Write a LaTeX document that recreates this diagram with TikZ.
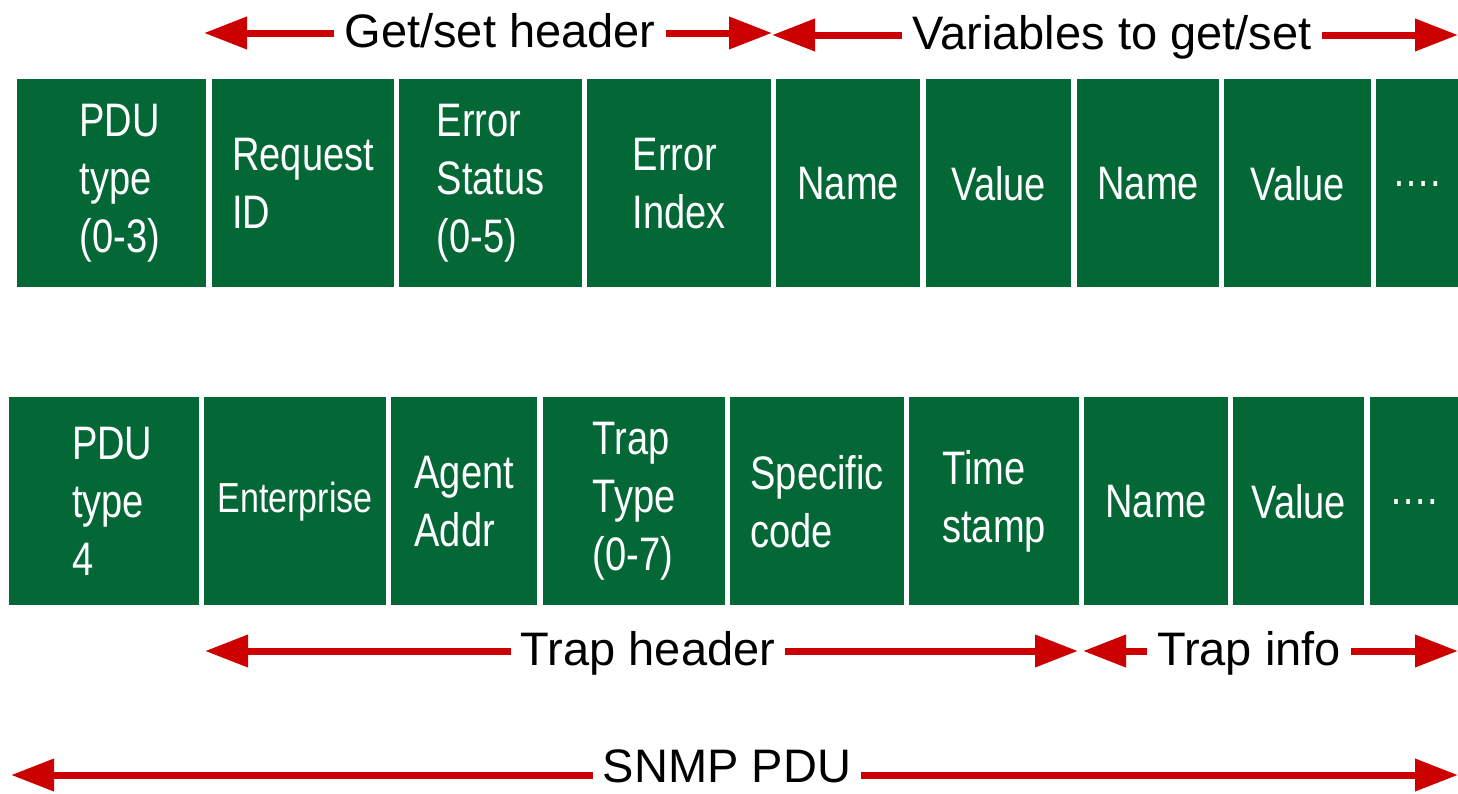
\documentclass[tikz,border=0pt]{standalone}
\usepackage{fontspec}
\setmainfont{Liberation Sans}
\newfontfamily\cellfont[FakeStretch=0.81]{Liberation Sans}
\usetikzlibrary{arrows.meta}
\definecolor{pdugreen}{RGB}{3,103,54}
\definecolor{pdured}{RGB}{204,0,0}

\begin{document}
\begin{tikzpicture}[x=1pt, y=-1pt,
  field/.style={fill=pdugreen, text=white, anchor=north west, inner sep=0pt,
    minimum height=208pt, align=left, font=\cellfont\fontsize{47}{58}\selectfont},
  span/.style={text height=28pt, text depth=0pt, inner xsep=10pt, inner ysep=0pt,
    font=\fontsize{47}{56}\selectfont},
  pduarrow/.style={draw=pdured, line width=7pt, -{Triangle[length=43pt,width=31pt]}}]
  \useasboundingbox (0,0) rectangle (1458,793);

  % get/set PDU
  \node[field, minimum width=189pt] (gtype) at (17,79) {\hspace*{16pt}PDU\\\hspace*{16pt}type\\\hspace*{16pt}(0-3)};
  \node[field, minimum width=182pt] (reqid) at (212,79) {Request\\ID};
  \node[field, minimum width=183pt] (errstat) at (399,79) {Error\\Status\\(0-5)};
  \node[field, minimum width=184pt] (erridx) at (587,79) {Error\\Index};
  \node[field, minimum width=144pt] (gname1) at (776,79) {Name};
  \node[field, minimum width=145pt] (gval1) at (926,79) {Value};
  \node[field, minimum width=142pt] (gname2) at (1077,79) {Name};
  \node[field, minimum width=147pt] (gval2) at (1224,79) {Value};
  \node[field, minimum width=82pt] (gmore) at (1376,79) {\raisebox{-6pt}{….}};

  % trap PDU
  \node[field, minimum width=190pt] (ttype) at (9,397) {\hspace*{16pt}PDU\\\hspace*{16pt}type\\\hspace*{16pt}4};
  \node[field, minimum width=182pt, font=\cellfont\fontsize{42}{50}\selectfont] (enterp) at (204,397) {Enterprise};
  \node[field, minimum width=146pt] (agent) at (391,397) {Agent\\Addr};
  \node[field, minimum width=182pt] (traptype) at (543,397) {Trap\\Type\\(0-7)};
  \node[field, minimum width=174pt] (spec) at (730,397) {Specific\\code};
  \node[field, minimum width=170pt] (tstamp) at (909,397) {Time\\stamp};
  \node[field, minimum width=144pt] (tname) at (1084,397) {Name};
  \node[field, minimum width=131pt] (tval) at (1233,397) {Value};
  \node[field, minimum width=88pt] (tmore) at (1370,397) {\raisebox{-6pt}{….}};

  % spans
  \node[span] (gshead) at (500,33) {Get/set header};
  \coordinate (gsL) at (204,33);
  \coordinate (gsR) at (772,33);
  \draw[pduarrow] (gshead.west) -- (gsL);
  \draw[pduarrow] (gshead.east) -- (gsR);

  \node[span] (vars) at (1112,35) {Variables to get/set};
  \coordinate (varL) at (772,35);
  \coordinate (varR) at (1458,35);
  \draw[pduarrow] (vars.west) -- (varL);
  \draw[pduarrow] (vars.east) -- (varR);

  \node[span] (trhead) at (648,651) {Trap header};
  \coordinate (trL) at (205,651);
  \coordinate (trR) at (1078,651);
  \draw[pduarrow] (trhead.west) -- (trL);
  \draw[pduarrow] (trhead.east) -- (trR);

  \node[span] (trinfo) at (1249,651) {Trap info};
  \coordinate (tiL) at (1083,651);
  \coordinate (tiR) at (1458,651);
  \draw[pduarrow] (trinfo.west) -- (tiL);
  \draw[pduarrow] (trinfo.east) -- (tiR);

  \node[span] (snmp) at (727,768) {SNMP PDU};
  \coordinate (snL) at (11,775);
  \coordinate (snR) at (1458,775);
  \draw[pduarrow] (snmp.west |- snL) -- (snL);
  \draw[pduarrow] (snmp.east |- snR) -- (snR);
\end{tikzpicture}
\end{document}
